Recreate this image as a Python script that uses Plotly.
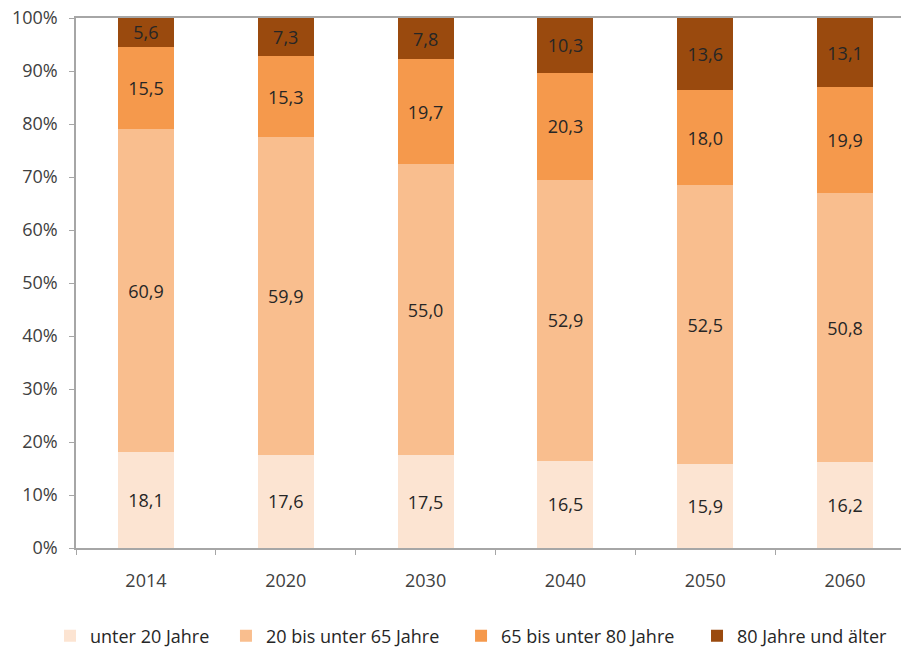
import plotly.graph_objects as go

years = ["2014", "2020", "2030", "2040", "2050", "2060"]
series_names = ["unter 20 Jahre", "20 bis unter 65 Jahre", "65 bis unter 80 Jahre", "80 Jahre und älter"]
unter20 = [18.1, 17.6, 17.5, 16.5, 15.9, 16.2]
von20bis65 = [60.9, 59.9, 55.0, 52.9, 52.5, 50.8]
von65bis80 = [15.5, 15.3, 19.7, 20.3, 18.0, 19.9]
ab80 = [5.6, 7.3, 7.8, 10.3, 13.6, 13.1]
colors = ["#FCE4D2", "#F9BE8E", "#F5994C", "#9A4A0E"]
legend_x = [0.0555, 0.2508, 0.5117, 0.7736]

font_family = "'Open Sans', sans-serif"
fs = 18
fig = go.Figure()
legend_ids = ["legend", "legend2", "legend3", "legend4"]
for name, vals, col, lid in zip(series_names, [unter20, von20bis65, von65bis80, ab80], colors, legend_ids):
    fig.add_trace(go.Bar(
        x=years, y=vals, name=name, marker=dict(color=col, line=dict(width=0)),
        width=0.4, text=[f"{v:.1f}".replace(".", ",") for v in vals],
        textposition="inside", insidetextanchor="middle", constraintext="none",
        textfont=dict(size=fs, color="#262626", family=font_family),
        legend=lid,
    ))

layout_legends = {}
for lid, lx in zip(legend_ids, legend_x):
    layout_legends[lid] = dict(orientation="h", xref="container", yref="container",
                               x=lx, xanchor="left", y=0.017, yanchor="middle",
                               font=dict(size=fs, color="#262626"), itemwidth=30,
                               bgcolor="rgba(0,0,0,0)")

fig.update_layout(
    barmode="stack", width=901, height=647,
    margin=dict(l=76, r=0, t=18, b=99),
    paper_bgcolor="white", plot_bgcolor="white",
    font=dict(family=font_family, size=fs, color="#404040"),
    showlegend=True,
    bargap=0.6,
    **layout_legends,
)
fig.update_xaxes(range=[-0.5, 5.4], showline=True, linecolor="#A6A6A6", linewidth=1.5,
                 mirror=True, ticks="outside", tickson="boundaries", ticklen=5,
                 tickcolor="#A6A6A6", showgrid=False, ticklabelstandoff=16, automargin=False,
                 tickfont=dict(size=fs, color="#404040"))
fig.update_yaxes(range=[0, 100], dtick=10, ticksuffix="%", showline=True, linecolor="#A6A6A6",
                 linewidth=1.5, ticks="outside", ticklen=5, tickcolor="#A6A6A6", showgrid=False,
                 zeroline=False, ticklabelstandoff=8, automargin=False,
                 tickfont=dict(size=fs, color="#404040"))

fig.write_html("out.html")
